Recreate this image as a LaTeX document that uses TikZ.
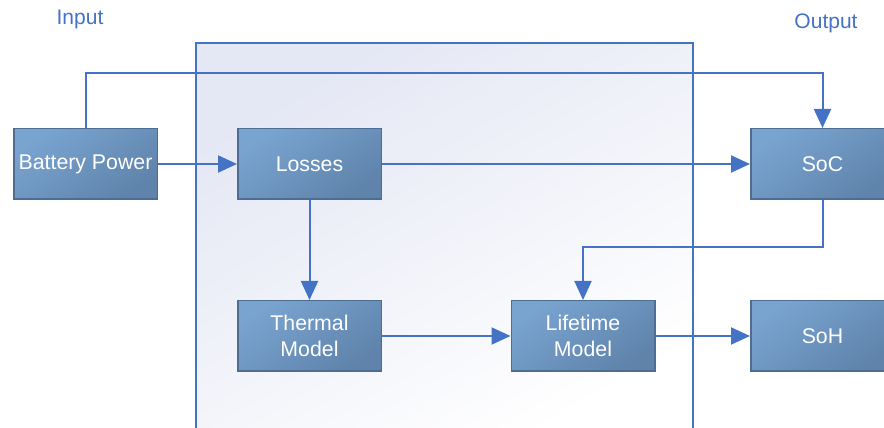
\documentclass[tikz,border=0pt]{standalone}
\usepackage{fontspec}
\setmainfont{Liberation Sans}
\usetikzlibrary{positioning,arrows.meta,calc}
\definecolor{LineBlue}{HTML}{4472C4}
\definecolor{BoxLight}{HTML}{79A4D0}
\definecolor{BoxDark}{HTML}{5F83AB}
\definecolor{BoxEdge}{HTML}{4D6D92}
\definecolor{Lavender}{HTML}{E4E7F4}

\begin{document}
\begin{tikzpicture}[x=1pt, y=1pt,
  block/.style={draw=BoxEdge, line width=1.5pt, top color=BoxLight, bottom color=BoxDark,
    shading angle=35, minimum width=143.5pt, minimum height=70.5pt, text=white,
    align=center, inner sep=0pt, font=\fontsize{21.3}{26}\selectfont},
  link/.style={LineBlue, line width=2pt, -{Triangle[length=19pt, width=17pt]}},
  caption/.style={text=LineBlue, font=\fontsize{21}{25}\selectfont}]
\clip (0,0) rectangle (884,428);

% Model frame
\path[top color=Lavender, bottom color=white, shading angle=30] (196,385) rectangle (693,-10);
\draw[LineBlue, line width=1.5pt] (196,-10) -- (196,385) -- (693,385) -- (693,-10);

% Labels
\node[caption] (inlabel) at (80,409) {Input};
\node[caption] (outlabel) at (826,405) {Output};

% Blocks
\node[block] (bp) at (85.5,264) {Battery Power};
\node[block] (losses) at (309.5,264) {Losses};
\node[block] (soc) at (822.5,264) {SoC};
\node[block] (thermal) at (309.5,92) {Thermal\\Model};
\node[block] (lifetime) at (583,92) {Lifetime\\Model};
\node[block] (soh) at (822.5,92) {SoH};

% Signal flow
\draw[link] (bp.north) -- ++(0,55) -| (soc.north);
\draw[link] (bp.east) -- (losses.west);
\draw[link] (losses.east) -- (soc.west);
\draw[link] (losses.south) -- (thermal.north);
\draw[link] (thermal.east) -- (lifetime.west);
\draw[link] (soc.south) -- ++(0,-47) -| (lifetime.north);
\draw[link] (lifetime.east) -- (soh.west);
\end{tikzpicture}
\end{document}
